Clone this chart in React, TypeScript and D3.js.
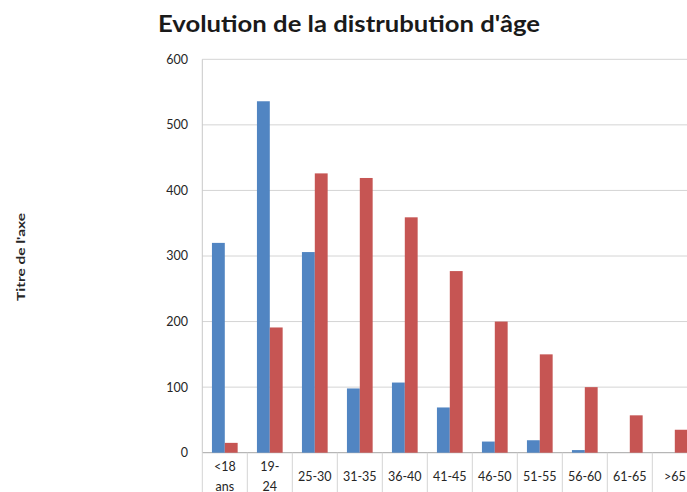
import React from "react";
import * as d3 from "d3";

const categories = ["<18 ans", "19-24", "25-30", "31-35", "36-40", "41-45", "46-50", "51-55", "56-60", "61-65", ">65"];
const categoryLines = [["<18", "ans"], ["19-", "24"], ["25-30"], ["31-35"], ["36-40"], ["41-45"], ["46-50"], ["51-55"], ["56-60"], ["61-65"], [">65"]];
const seriesNames = ["Série 1", "Série 2"];
const series1 = [320, 536, 306, 98, 107, 69, 17, 19, 4, 0, 0];
const series2 = [15, 191, 426, 419, 359, 277, 200, 150, 100, 57, 35];
const yTicks = [0, 100, 200, 300, 400, 500, 600];
const title = "Evolution de la distrubution d'âge";
const yTitle = "Titre de l'axe";

const W = 687;
const H = 492;
const colors = ["#5185C2", "#C65553"];
const font = "Lato, 'Open Sans', sans-serif";

export default function App() {
  const x = d3.scaleBand<string>().domain(categories).range([202.3, 697.3]).paddingInner(0).paddingOuter(0);
  const x1 = d3.scaleBand<string>().domain(seriesNames).range([0, x.bandwidth()]).paddingInner(0).paddingOuter(0.75);
  const y = d3.scaleLinear().domain([0, 600]).range([452.7, 59.3]);
  const values = [series1, series2];
  const [x0, xEnd] = x.range();
  const boundaries = categories.map((c) => x(c) as number).concat([xEnd]);

  return (
    <svg width={W} height={H} style={{ position: "absolute", left: 0, top: 0, background: "#fff" }} fontFamily={font}>
      <rect x={0} y={0} width={W} height={H} fill="#fff" />
      <text x={349} y={32} textAnchor="middle" fontSize={23} fontWeight="bold" fill="#1a1a1a" textLength={382} lengthAdjust="spacingAndGlyphs">
        {title}
      </text>
      {/* gridlines */}
      {yTicks.map((t) => (
        <line key={t} x1={x0} x2={W} y1={y(t)} y2={y(t)} stroke={t === 0 ? "#a6a6a6" : "#d4d4d4"} strokeWidth={1} />
      ))}
      {/* y axis line */}
      <line x1={x0} x2={x0} y1={y(600)} y2={y(0)} stroke="#c8c8c8" />
      {/* category separators */}
      {boundaries.map((b, i) => (
        <line key={i} x1={b} x2={b} y1={y(0)} y2={H} stroke="#d4d4d4" />
      ))}
      {/* y tick labels */}
      {yTicks.map((t) => (
        <text key={t} x={188} y={y(t)} dy="0.35em" textAnchor="end" fontSize={12.5} fill="#262626">
          {t}
        </text>
      ))}
      {/* bars */}
      {values.map((vals, si) =>
        vals.map((v, i) => (
          <rect
            key={`${si}-${i}`}
            x={(x(categories[i]) as number) + (x1(seriesNames[si]) as number)}
            y={y(v)}
            width={x1.bandwidth()}
            height={y(0) - y(v)}
            fill={colors[si]}
          />
        ))
      )}
      {/* x labels */}
      {categories.map((c, i) => {
        const cx = (x(c) as number) + x.bandwidth() / 2;
        const lines = categoryLines[i];
        if (lines.length === 1) {
          return (
            <text key={c} x={cx} y={480.7} textAnchor="middle" fontSize={12.5} fill="#262626">
              {lines[0]}
            </text>
          );
        }
        return (
          <text key={c} x={cx} textAnchor="middle" fontSize={12.5} fill="#262626">
            <tspan x={cx} y={470.7}>{lines[0]}</tspan>
            <tspan x={cx} y={490.5}>{lines[1]}</tspan>
          </text>
        );
      })}
      {/* y axis title */}
      <text transform="translate(25,257) rotate(-90)" textAnchor="middle" fontSize={12} fontWeight="bold" fill="#262626" textLength={88} lengthAdjust="spacingAndGlyphs">
        {yTitle}
      </text>
    </svg>
  );
}
